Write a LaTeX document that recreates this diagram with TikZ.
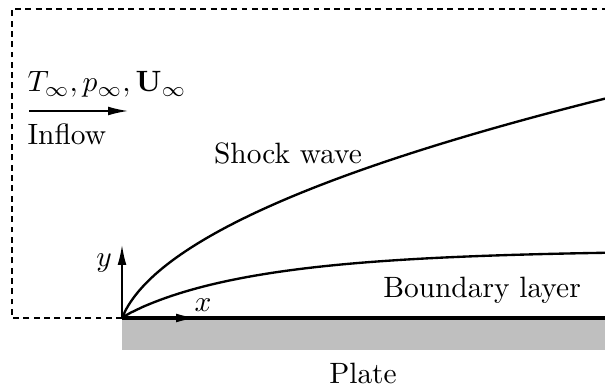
\documentclass[tikz,border=0pt]{standalone}
\usetikzlibrary{arrows.meta}
\begin{document}
\begin{tikzpicture}[x=0.34pt,y=-0.34pt,
  tip/.style={-{Latex[length=6.8pt,width=3pt]}},
  bound/.style={dash pattern=on 2pt off 1.5pt, line width=0.4pt},
  curve/.style={line width=0.8pt},
  lbl/.style={inner sep=0pt, font=\normalsize}]
\useasboundingbox (0,0) rectangle (605,390);
% plate
\fill[gray!50] (122,318) rectangle (605,350);
\draw[line width=1.2pt] (122,318) -- (605,318);
% dashed domain boundary
\draw[bound] (122,318) -- (12,318) -- (12,9) -- (610,9);
% coordinate axes
\coordinate (O) at (122,318);
\coordinate (xe) at (196,318);
\coordinate (ye) at (122,245);
\draw[tip, line width=0.5pt] (O) -- (xe);
\draw[tip, line width=0.5pt] (O) -- (ye);
\node[lbl] (xl) at (203,305) {$x$};
\node[lbl] (yl) at (104,263) {$y$};
% shock wave
\draw[curve, domain=0:483, samples=120, smooth] plot ({122+\x},{318-11.05*(sqrt(\x+5)-sqrt(5))});
% boundary layer
\draw[curve, domain=0.5:483, samples=120, smooth] (O) -- plot ({122+\x},{318-68*(1-exp(-((\x/136.6)^0.92)))});
% inflow
\node[lbl, anchor=base west] (cond) at (27,92) {$T_\infty, p_\infty, \mathbf{U}_\infty$};
\coordinate (ia) at (29,111);
\coordinate (ib) at (128,111);
\draw[tip, line width=0.5pt] (ia) -- (ib);
\node[lbl, anchor=west] (inflow) at (27,134) {Inflow};
% labels
\node[lbl] (shock) at (288,153) {Shock wave};
\node[lbl] (bl) at (482,290) {Boundary layer};
\node[lbl] (plate) at (363,373) {Plate};
\end{tikzpicture}
\end{document}
